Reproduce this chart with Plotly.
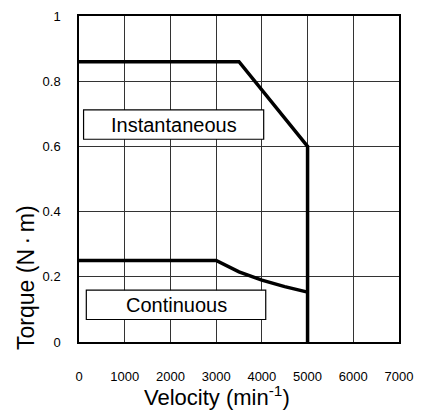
import plotly.graph_objects as go

# Torque-speed characteristic of the servo motor
inst_speed = [0, 3500, 5000, 5000]
inst_torque = [0.86, 0.86, 0.60, 0.0]

cont_speed = [0, 3000, 3500, 4000, 4500, 5000]
cont_torque = [0.25, 0.25, 0.215, 0.19, 0.17, 0.153]

x_ticks = [0, 1000, 2000, 3000, 4000, 5000, 6000, 7000]
y_ticks = [0, 0.2, 0.4, 0.6, 0.8, 1]

# region labels: (text, x0, x1, y0, y1) in data units
region_labels = [
    ("Instantaneous", 100, 4040, 0.622, 0.712),
    ("Continuous", 160, 4085, 0.069, 0.159),
]

tick_font = "Liberation Sans Narrow, Arial Narrow, Liberation Sans, Arial, sans-serif"
regular = "Liberation Sans, Arial, sans-serif"

fig = go.Figure()
fig.add_trace(go.Scatter(x=inst_speed, y=inst_torque, mode="lines",
                         line=dict(color="black", width=3.5), hoverinfo="skip"))
fig.add_trace(go.Scatter(x=cont_speed, y=cont_torque, mode="lines",
                         line=dict(color="black", width=3.5), hoverinfo="skip"))

for text, x0, x1, y0, y1 in region_labels:
    fig.add_shape(type="rect", x0=x0, x1=x1, y0=y0, y1=y1, xref="x", yref="y",
                  line=dict(color="black", width=1.2), fillcolor="white", layer="above")
    fig.add_annotation(x=(x0 + x1) / 2, y=(y0 + y1) / 2, xref="x", yref="y",
                       text=text, showarrow=False,
                       font=dict(family=regular, size=20, color="black"))

# axis titles placed as annotations
fig.add_annotation(x=0.43, y=-0.165, xref="paper", yref="paper",
                   text="Velocity (min<sup>-1</sup>)", showarrow=False,
                   font=dict(family=regular, size=22, color="black"),
                   xanchor="center", yanchor="middle")
fig.add_annotation(x=-0.165, y=0.197, xref="paper", yref="paper",
                   text="Torque (N\u2009·\u2009m)", showarrow=False, textangle=-90,
                   font=dict(family=regular, size=23, color="black"),
                   xanchor="center", yanchor="middle")

axis_common = dict(showgrid=True, gridcolor="#333333", gridwidth=1,
                   showline=True, linecolor="black", linewidth=1.5, mirror=True,
                   zeroline=False, ticks="",
                   tickfont=dict(family=tick_font, size=13, color="black"))

fig.update_layout(
    width=422, height=418,
    margin=dict(l=78.5, r=22, t=9, b=76),
    paper_bgcolor="white", plot_bgcolor="white",
    showlegend=False,
    xaxis=dict(range=[0, 7000], tickvals=x_ticks, ticktext=[str(v) for v in x_ticks],
               ticklabelstandoff=22, **axis_common),
    yaxis=dict(range=[0, 1], tickvals=y_ticks, ticktext=["0", "0.2", "0.4", "0.6", "0.8", "1"],
               ticklabelstandoff=14, **axis_common),
)

fig.write_html("out.html")
